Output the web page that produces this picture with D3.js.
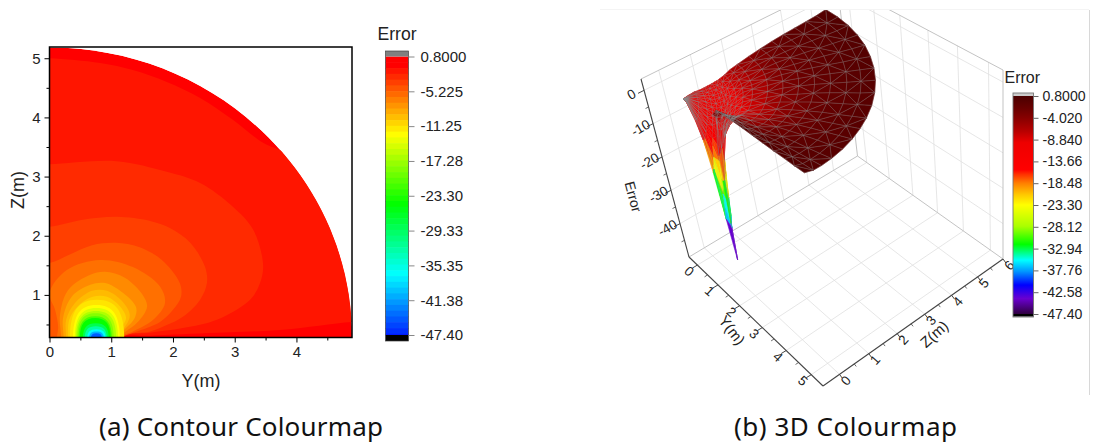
<!DOCTYPE html>
<html><head><meta charset="utf-8">
<script src="https://cdn.jsdelivr.net/npm/d3@7"></script>
<style>
html,body{margin:0;padding:0;background:#fff}
svg{display:block}
text{font-family:"Liberation Sans",Arial,sans-serif;fill:#222}
.cap{font-family:"Noto Sans",sans-serif;font-size:26px;fill:#111}
</style></head><body><div id="c"></div>
<script>
// ---------- panel (a) data: contour lines as [Y, Z] in metres, outermost first
const bandBase = 0.8;
const contourLevels = [-0.2,-1.2,-2.2,-3.3,-4.5,-5.7,-7,-8,-9];
const contourLines = [
 [[-.4,-.2],[-.4,5],[0,5],[.82,4.92],[1.35,4.8],[1.9,4.6],[2.44,4.33],[2.97,3.96],[3.46,3.57],[3.73,3.45],[4.4,3.2],[5.4,3.2],[5.4,.55],[4.9,.54],[3.78,.41],[2.71,.36],[1.63,.31],[1.14,.27],[1.1,-.2]],
 [[-.4,-.2],[-.4,3.21],[0,3.21],[1.09,3.26],[1.9,3.08],[2.44,2.89],[2.97,2.49],[3.3,2.1],[3.46,1.51],[3.41,1.2],[3.25,.92],[2.71,.58],[2.16,.44],[1.63,.36],[1.14,.28],[1.1,-.2]],
 [[-.4,-.2],[-.4,2.15],[0,2.15],[.54,2.27],[1.09,2.32],[1.63,2.25],[1.95,2.13],[2.28,1.88],[2.52,1.47],[2.55,1.2],[2.44,.92],[2.16,.63],[1.9,.49],[1.63,.38],[1.14,.28],[1.1,-.2]],
 [[-.4,-.2],[-.4,1.54],[0,1.54],[.32,1.68],[.69,1.84],[1.08,1.88],[1.45,1.81],[1.82,1.59],[2.11,1.2],[2.13,.97],[2,.75],[1.79,.54],[1.63,.46],[1.22,.31],[1.06,.25],[1,-.2]],
 [[.12,-.2],[.12,.27],[.14,.46],[.09,.75],[0,1.03],[.28,1.42],[.82,1.59],[1.35,1.47],[1.79,1.14],[1.87,.86],[1.68,.58],[1.35,.38],[1.11,.26],[1.05,-.2]],
 [[.19,-.2],[.19,.27],[.17,.66],[.3,1.08],[.66,1.34],[.9,1.39],[1.22,1.29],[1.51,1],[1.58,.8],[1.43,.54],[1.22,.37],[1.08,.26],[1.04,-.2]],
 [[.23,-.2],[.23,.27],[.22,.61],[.36,.97],[.66,1.17],[.9,1.2],[1.17,1.05],[1.4,.8],[1.38,.61],[1.21,.41],[1.06,.26],[1.02,-.2]],
 [[.27,-.2],[.27,.27],[.27,.58],[.41,.86],[.69,1.07],[.93,1.07],[1.17,.9],[1.3,.66],[1.21,.44],[1.04,.26],[1,-.2]],
 [[.3,-.2],[.3,.27],[.32,.58],[.46,.81],[.7,.97],[.93,.97],[1.14,.81],[1.24,.61],[1.16,.44],[1.03,.26],[.99,-.2]]
];
// inner lobes round the source: level, left foot, right foot, crown height
const lobeLevels = [-10,-11.25,-13,-15,-17,-20,-23,-27,-31,-35,-39,-43];
const lobeLeft   = [.33,.38,.41,.43,.45,.47,.49,.54,.57,.61,.64,.67];
const lobeRight  = [1.21,1.14,1.11,1.08,1.04,1.01,.99,.96,.93,.91,.88,.85];
const lobeTop    = [.92,.83,.78,.73,.69,.64,.61,.52,.47,.42,.38,.35];
const xTicksA = [0,1,2,3,4], xMinorA = [.5,1.5,2.5,3.5,4.5];
const yTicksA = [1,2,3,4,5], yMinorA = [.5,1.5,2.5,3.5,4.5];
const barTicksA = [.8,-5.225,-11.25,-17.28,-23.3,-29.33,-35.35,-41.38,-47.4];
const barLabelsA = ["0.8000","-5.225","-11.25","-17.28","-23.30","-29.33","-35.35","-41.38","-47.40"];
const discRadius = 4.9, discBase = .28;

// ---------- panel (b) data: surface Error values on rings (rows) and angles (columns)
const surfRadius = [0,.12,.36,.55,.68,.8,.92,1.02,1.1,1.2,1.35,1.55,1.8,2.2,2.6,3,3.4,3.8,4.2,4.55,4.9];
const surfAngle  = [0,3,6,10,15,20,25,30,36,42,48,54,60,66,72,78,84,90];
const surfError = [
 [-4.5,-4.5,-4.5,-4.5,-4.5,-4.5,-4.5,-4.5,-4.5,-4.5,-4.5,-4.5,-4.5,-4.5,-4.5,-4.5,-4.5,-4.5],
 [-4.8,-4.8,-4.8,-4.8,-4.8,-4.8,-4.8,-4.7,-4.7,-4.6,-4.6,-4.5,-4.5,-4.4,-4.4,-4.3,-4.3,-4.2],
 [-9,-9,-9,-9,-8.8,-8.4,-8,-7.5,-7,-6.6,-6.2,-5.7,-5.2,-4.8,-4.5,-4.3,-4.2,-4.1],
 [-14,-14,-13.8,-13.3,-12.3,-11.5,-10.7,-10,-9.2,-8.5,-7.7,-7,-6.3,-5.7,-5.2,-4.8,-4.5,-4.3],
 [-23,-22,-21,-19,-16,-14,-12.5,-11,-10,-9.2,-8.4,-7.6,-6.9,-6.1,-5.5,-5,-4.6,-4.3],
 [-36,-33,-29,-25,-20,-16,-13.5,-12,-10.6,-9.6,-8.8,-8,-7.2,-6.5,-5.8,-5.1,-4.7,-4.3],
 [-47.4,-38,-31,-25,-19.5,-16,-13.5,-11.8,-10.5,-9.5,-8.6,-7.8,-7,-6.3,-5.7,-5.1,-4.7,-4.3],
 [-36,-34,-29,-23,-18,-14.5,-12.5,-11,-9.8,-8.9,-8.2,-7.5,-6.8,-6.2,-5.6,-5.1,-4.7,-4.2],
 [-23,-23,-21.5,-18,-15,-12.5,-11,-10,-9,-8.3,-7.6,-7,-6.4,-5.9,-5.4,-5,-4.6,-4.2],
 [-15,-14.5,-13.5,-12.5,-11,-10,-9,-8.4,-7.7,-7.1,-6.6,-6.2,-5.7,-5.3,-4.9,-4.6,-4.3,-4],
 [-2.2,-3.5,-5.5,-7,-8,-8,-7.6,-7.1,-6.5,-6,-5.6,-5.2,-4.9,-4.6,-4.3,-4.1,-3.9,-3.7],
 [0,-1,-2.2,-3.4,-4.8,-5.4,-5.6,-5.4,-5,-4.6,-4.3,-4,-3.8,-3.6,-3.4,-3.2,-3.1,-3],
 [.3,-.3,-1.2,-2,-3,-3.7,-4.1,-4.4,-4.3,-3.9,-3.6,-3.3,-3.3,-3.2,-3,-2.8,-2.7,-2.6],
 [.5,-.5,-1.2,-2,-2.7,-3.2,-3.4,-3.4,-3.2,-3,-2.8,-2.6,-2.4,-2.3,-2.2,-2.1,-2.1,-2],
 [.6,-.4,-1.1,-1.7,-2.2,-2.4,-2.5,-2.4,-2.2,-2,-1.9,-1.7,-1.6,-1.6,-1.5,-1.5,-1.5,-1.5],
 [.6,-.3,-.8,-1.2,-1.5,-1.7,-1.8,-1.8,-1.7,-1.6,-1.4,-1.3,-1.2,-1.2,-1.1,-1.1,-1.1,-1.1],
 [.6,-.2,-.5,-.9,-1.1,-1.2,-1.3,-1.3,-1.2,-1.1,-1,-.9,-.9,-.9,-.8,-.8,-.8,-.8],
 [.6,-.1,-.4,-.6,-.8,-.9,-.9,-.9,-.9,-.8,-.8,-.7,-.7,-.6,-.6,-.6,-.6,-.6],
 [.7,0,-.3,-.5,-.6,-.7,-.7,-.7,-.7,-.6,-.6,-.5,-.5,-.4,-.4,-.4,-.4,-.4],
 [.7,0,-.2,-.4,-.5,-.5,-.5,-.5,-.5,-.5,-.4,-.3,-.2,-.2,-.2,-.2,-.2,-.2],
 [.8,.1,-.1,-.2,-.3,-.3,-.3,-.3,-.3,-.2,-.2,-.1,-.1,.1,.1,.2,.2,.2]
];
const yTicksB = [0,1,2,3,4,5], yMinorB = [.5,1.5,2.5,3.5,4.5];
const zTicksB = [0,1,2,3,4,5,6], zMinorB = [.5,1.5,2.5,3.5,4.5,5.5];
const eTicksB = [0,-10,-20,-30,-40], eMinorB = [-5,-15,-25,-35,-45];
const barTicksB = [.8,-4.02,-8.84,-13.66,-18.48,-23.3,-28.12,-32.94,-37.76,-42.58,-47.4];
const barLabelsB = ["0.8000","-4.020","-8.840","-13.66","-18.48","-23.30","-28.12","-32.94","-37.76","-42.58","-47.40"];
const cmapValues = [.8,-2,-4,-7,-9.5,-15.5,-16.5,-18.5,-21,-23.3,-28,-32,-35.5,-38,-41,-44,-47.4];
const cmapColors = ["#4a0000","#6a0000","#860000","#b80000","#ee0000","#ff0000","#ff3000","#ff8000","#ffc800","#ffff00","#aaff00","#00ff00","#00ffff","#0096ff","#0000ff","#6a00d0","#300040"];
// surface lighting: the lit mesh reads brighter than the colour bar at shallow errors
const lightIn  = [.8,-.5,-1.5,-3,-5,-10,-15,-47.4];
const lightOut = [.8,-.6,-2.8,-6.5,-9.5,-11.5,-15,-47.4];

// ---------- page
const svg = d3.select("#c").append("svg").attr("width",1093).attr("height",445);
const defs = svg.append("defs");

// ---------- panel (a)
const xA = d3.scaleLinear().domain([0,discRadius]).range([49.5,352]);
const yA = d3.scaleLinear().domain([discBase,5.19]).range([337.5,47]);
const hue = d3.scaleLinear().domain([.8,-47.4]).range([0,240]);
const bandColor = v => d3.hsl(hue(v),1,.5).formatHex();

defs.append("clipPath").attr("id","plotA").append("rect")
  .attr("x",xA(0)).attr("y",yA(5.19)).attr("width",xA(discRadius)-xA(0)).attr("height",yA(discBase)-yA(5.19));
const discPath = d3.path();
discPath.moveTo(xA(0),yA(discBase));
discPath.lineTo(xA(0),yA(discBase+discRadius));
discPath.bezierCurveTo(xA(discRadius*.5523),yA(discBase+discRadius),xA(discRadius),yA(discBase+discRadius*.5523),xA(discRadius),yA(discBase));
discPath.closePath();
defs.append("clipPath").attr("id","discA").append("path").attr("d",discPath.toString());

const gA = svg.append("g").attr("clip-path","url(#plotA)").append("g").attr("clip-path","url(#discA)");
gA.append("path").attr("d",discPath.toString()).attr("fill",bandColor(bandBase));
const lineA = d3.line().x(d=>xA(d[0])).y(d=>yA(d[1])).curve(d3.curveCatmullRom.alpha(.5));
gA.selectAll("path.band").data(contourLines).join("path").attr("class","band")
  .attr("d",d=>lineA(d)+"Z").attr("fill",(d,i)=>bandColor(contourLevels[i]));
gA.selectAll("path.lobe").data(lobeLevels).join("path").attr("class","lobe")
  .attr("fill",d=>bandColor(d))
  .attr("d",(d,i)=>{
    const l=lobeLeft[i], r=lobeRight[i], t=lobeTop[i], m=(l+r)/2, b=discBase-.02, k=.7;
    const p=d3.path();
    p.moveTo(xA(l),yA(b));
    p.bezierCurveTo(xA(l),yA(b+(t-b)*k),xA(m-(m-l)*k),yA(t),xA(m),yA(t));
    p.bezierCurveTo(xA(m+(r-m)*k),yA(t),xA(r),yA(b+(t-b)*k),xA(r),yA(b));
    p.closePath();
    return p.toString();
  });
svg.append("rect").attr("x",xA(0)).attr("y",yA(5.19)).attr("width",xA(discRadius)-xA(0)).attr("height",yA(discBase)-yA(5.19))
  .attr("fill","none").attr("stroke","#000").attr("stroke-width",1.5);

function styleAxis(g,size){g.select(".domain").remove();g.selectAll("text").attr("font-size",size).style("font-family",'"Liberation Sans",Arial,sans-serif').attr("fill","#222");return g;}
svg.append("g").attr("transform",`translate(0,${yA(discBase)})`).call(d3.axisBottom(xA).tickValues(xTicksA).tickSize(5).tickPadding(4).tickFormat(d3.format("d"))).call(styleAxis,15);
svg.append("g").attr("transform",`translate(0,${yA(discBase)})`).call(d3.axisBottom(xA).tickValues(xMinorA).tickSize(3).tickFormat("")).call(styleAxis,15);
svg.append("g").attr("transform",`translate(${xA(0)},0)`).call(d3.axisLeft(yA).tickValues(yTicksA).tickSize(5).tickPadding(4).tickFormat(d3.format("d"))).call(styleAxis,15);
svg.append("g").attr("transform",`translate(${xA(0)},0)`).call(d3.axisLeft(yA).tickValues(yMinorA).tickSize(3).tickFormat("")).call(styleAxis,15);
svg.append("text").attr("x",201).attr("y",387).attr("text-anchor","middle").attr("font-size",18).text("Y(m)");
svg.append("text").attr("transform","translate(24,190) rotate(-90)").attr("text-anchor","middle").attr("font-size",18).text("Z(m)");

// colour bar (a)
const barA = d3.scaleLinear().domain([.8,-47.4]).range([56.5,335]);
const barLevelsA = d3.range(.8,-47.4,-1);
const barLeftA = 385.5, barWideA = 23;
svg.append("g").selectAll("rect").data(barLevelsA).join("rect")
  .attr("x",barLeftA).attr("width",barWideA)
  .attr("y",d=>barA(d)).attr("height",d=>Math.min(barA(d-1),barA(-47.4))-barA(d)+.6)
  .attr("fill",(d,i)=>bandColor(i===0?.8:d+1));
svg.append("rect").attr("x",barLeftA).attr("width",barWideA).attr("y",51).attr("height",5.5).attr("fill","#808080");
svg.append("rect").attr("x",barLeftA).attr("width",barWideA).attr("y",335).attr("height",6).attr("fill","#000");
svg.append("rect").attr("x",barLeftA).attr("width",barWideA).attr("y",51).attr("height",290).attr("fill","none").attr("stroke","#444").attr("stroke-width",.7);
svg.append("g").attr("transform",`translate(${barLeftA+barWideA},0)`)
  .call(d3.axisRight(barA).tickValues(barTicksA).tickSize(6).tickPadding(6).tickFormat((d,i)=>barLabelsA[i])).call(styleAxis,15)
  .selectAll("line").attr("stroke","#888");
svg.append("text").attr("x",377.5).attr("y",40).attr("font-size",17.6).text("Error");

// ---------- panel (b): box projection
const Ymin=-.42,Ymax=5.45,Zmin=-.55,Zmax=6.0,Emin=-50,Emax=3.4;
function quad(p){ // unit square (u along A->B, v along A->D) to quadrilateral A,B,C,D
  const [p0,p1,p2,p3]=p;
  const dx1=p1[0]-p2[0],dx2=p3[0]-p2[0],sx=p0[0]-p1[0]+p2[0]-p3[0];
  const dy1=p1[1]-p2[1],dy2=p3[1]-p2[1],sy=p0[1]-p1[1]+p2[1]-p3[1];
  const den=dx1*dy2-dx2*dy1;
  const g=(sx*dy2-dx2*sy)/den,h=(dx1*sy-sx*dy1)/den;
  const a=p1[0]-p0[0]+g*p1[0],b=p3[0]-p0[0]+h*p3[0],c=p0[0];
  const d=p1[1]-p0[1]+g*p1[1],e=p3[1]-p0[1]+h*p3[1],f=p0[1];
  return (u,v)=>{const w=g*u+h*v+1;return [(a*u+b*v+c)/w,(d*u+e*v+f)/w];};
}
const floorQ = quad([[689,257],[823,386],[1003,259],[857.5,156]]);
const topQ   = quad([[641,79],[790,192],[1003,70],[837,-18]]);
const uS=d3.scaleLinear().domain([Ymin,Ymax]).range([0,1]);
const vS=d3.scaleLinear().domain([Zmin,Zmax]).range([0,1]);
const tS=d3.scaleLinear().domain([Emin,Emax]).range([0,1]);
function proj(Y,Z,E){
  const f=floorQ(uS(Y),vS(Z)),t=topQ(uS(Y),vS(Z)),k=tS(E);
  return [f[0]+(t[0]-f[0])*k,f[1]+(t[1]-f[1])*k];
}
defs.append("clipPath").attr("id","plotB").append("rect").attr("x",560).attr("y",10).attr("width",529).attr("height",400);
const gB=svg.append("g").attr("clip-path","url(#plotB)");
const seg=(g,a,b,col,w)=>g.append("line").attr("x1",a[0]).attr("y1",a[1]).attr("x2",b[0]).attr("y2",b[1]).attr("stroke",col).attr("stroke-width",w);
const gridCol="#e0e0e0", frameCol="#bcbcbc", axisCol="#444";
yTicksB.forEach(Y=>{seg(gB,proj(Y,Zmin,Emin),proj(Y,Zmax,Emin),gridCol,.8);seg(gB,proj(Y,Zmax,Emin),proj(Y,Zmax,Emax),gridCol,.8);});
zTicksB.filter(z=>z<6).forEach(Z=>{seg(gB,proj(Ymin,Z,Emin),proj(Ymax,Z,Emin),gridCol,.8);seg(gB,proj(Ymin,Z,Emin),proj(Ymin,Z,Emax),gridCol,.8);});
eTicksB.forEach(E=>{seg(gB,proj(Ymin,Zmin,E),proj(Ymin,Zmax,E),gridCol,.8);seg(gB,proj(Ymin,Zmax,E),proj(Ymax,Zmax,E),gridCol,.8);});
[[[Ymin,Zmin,Emax],[Ymin,Zmax,Emax]],[[Ymin,Zmax,Emax],[Ymax,Zmax,Emax]],[[Ymax,Zmax,Emax],[Ymax,Zmax,Emin]],[[Ymin,Zmin,Emin],[Ymin,Zmax,Emin]],[[Ymin,Zmax,Emin],[Ymax,Zmax,Emin]],[[Ymin,Zmax,Emax],[Ymin,Zmax,Emin]]]
  .forEach(s=>seg(gB,proj(...s[0]),proj(...s[1]),frameCol,.9));

// surface
const cmap3D=d3.scaleLinear().domain(cmapValues).range(cmapColors).interpolate(d3.interpolateRgb);
const light=d3.scaleLinear().domain(lightIn).range(lightOut);
const nodes=surfError.map((row,i)=>row.map((E,j)=>{
  const a=surfAngle[j]*Math.PI/180,r=surfRadius[i];
  const Y=r*Math.cos(a),Z=discBase+r*Math.sin(a);
  return {Y,Z,E,p:proj(Y,Z,E)};
}));
const tris=[];
for(let i=0;i<nodes.length-1;i++)for(let j=0;j<nodes[i].length-1;j++){
  const a=nodes[i][j],b=nodes[i+1][j],c=nodes[i+1][j+1],d=nodes[i][j+1];
  if((i+j)%2){tris.push([a,b,c]);tris.push([a,c,d]);}else{tris.push([a,b,d]);tris.push([b,c,d]);}
}
tris.forEach(t=>{
  const mean=d3.mean(t,n=>n.E),low=d3.min(t,n=>n.E);
  t.depth=d3.mean(t,n=>n.Y-n.Z);
  t.E=low<-30?(mean+low)/2:mean;
});
tris.sort((p,q)=>p.depth-q.depth);
const surfFill=t=>cmap3D(light(t.E));
gB.append("g").selectAll("path").data(tris).join("path")
  .attr("d",t=>"M"+t.map(n=>n.p.join(",")).join("L")+"Z")
  .attr("fill",surfFill).attr("stroke",surfFill).attr("stroke-width",.6);
gB.append("g").selectAll("path").data(tris).join("path")
  .attr("d",t=>"M"+t.map(n=>n.p.join(",")).join("L")+"Z")
  .attr("fill","none").attr("stroke","#8c8c8c").attr("stroke-opacity",t=>t.E<-12?.12:.42).attr("stroke-width",.5);

// axes (b)
seg(svg,proj(Ymin,Zmin,Emax),proj(Ymin,Zmin,Emin),axisCol,1.1);
seg(svg,proj(Ymin,Zmin,Emin),proj(Ymax,Zmin,Emin),axisCol,1.1);
seg(svg,proj(Ymax,Zmin,Emin),proj(Ymax,Zmax,Emin),axisCol,1.1);
eTicksB.forEach(E=>{const p=proj(Ymin,Zmin,E);seg(svg,p,[p[0]-6,p[1]+3],axisCol,1);
  svg.append("text").attr("transform",`translate(${p[0]-12},${p[1]+5}) rotate(-30)`).attr("text-anchor","middle").attr("dominant-baseline","middle").attr("font-size",13.5).text(E);});
eMinorB.forEach(E=>{const p=proj(Ymin,Zmin,E);seg(svg,p,[p[0]-3,p[1]+1.5],axisCol,.8);});
yTicksB.forEach(Y=>{const p=proj(Y,Zmin,Emin);seg(svg,p,[p[0]-5,p[1]+3],axisCol,1);
  svg.append("text").attr("transform",`translate(${p[0]-9},${p[1]+7}) rotate(42)`).attr("text-anchor","middle").attr("dominant-baseline","middle").attr("font-size",13.5).text(Y);});
yMinorB.forEach(Y=>{const p=proj(Y,Zmin,Emin);seg(svg,p,[p[0]-3,p[1]+2],axisCol,.8);});
zTicksB.forEach(Z=>{const p=proj(Ymax,Z,Emin);seg(svg,p,[p[0]+3,p[1]+4],axisCol,1);
  svg.append("text").attr("transform",`translate(${p[0]+7},${p[1]+7}) rotate(-48)`).attr("text-anchor","middle").attr("dominant-baseline","middle").attr("font-size",13.5).text(Z);});
zMinorB.forEach(Z=>{const p=proj(Ymax,Z,Emin);seg(svg,p,[p[0]+2,p[1]+2.5],axisCol,.8);});
svg.append("text").attr("transform","translate(731,331) rotate(52)").attr("text-anchor","middle").attr("dominant-baseline","middle").attr("font-size",15).text("Y(m)");
svg.append("text").attr("transform","translate(935,335) rotate(-42)").attr("text-anchor","middle").attr("dominant-baseline","middle").attr("font-size",15).text("Z(m)");
svg.append("text").attr("transform","translate(632,197) rotate(75)").attr("text-anchor","middle").attr("dominant-baseline","middle").attr("font-size",14).text("Error");

// colour bar (b)
const barB=d3.scaleLinear().domain([.8,-47.4]).range([96,314]);
const grad=defs.append("linearGradient").attr("id","cmapB").attr("x1",0).attr("x2",0).attr("y1",0).attr("y2",1);
grad.selectAll("stop").data(cmapValues).join("stop")
  .attr("offset",d=>(barB(d)-96)/(314-96)).attr("stop-color",(d,i)=>cmapColors[i]);
const barLeftB=1013, barWideB=20.5;
svg.append("rect").attr("x",barLeftB).attr("width",barWideB).attr("y",93).attr("height",224).attr("fill","#ccc");
svg.append("rect").attr("x",barLeftB).attr("width",barWideB).attr("y",96).attr("height",218).attr("fill","url(#cmapB)");
svg.append("rect").attr("x",barLeftB).attr("width",barWideB).attr("y",314).attr("height",2.5).attr("fill","#000");
svg.append("rect").attr("x",barLeftB).attr("width",barWideB).attr("y",93).attr("height",224).attr("fill","none").attr("stroke","#777").attr("stroke-width",.9);
svg.append("g").attr("transform",`translate(${barLeftB+barWideB},0)`)
  .call(d3.axisRight(barB).tickValues(barTicksB).tickSize(5).tickPadding(4).tickFormat((d,i)=>barLabelsB[i])).call(styleAxis,14.1)
  .selectAll("line").attr("stroke","#666");
svg.append("text").attr("x",1004.5).attr("y",83).attr("font-size",16).text("Error");
// image edges
svg.append("line").attr("x1",1089.5).attr("x2",1089.5).attr("y1",10).attr("y2",395).attr("stroke","#d8d8d8");
svg.append("line").attr("x1",600).attr("x2",1089).attr("y1",9.5).attr("y2",9.5).attr("stroke","#f4f4f4");

// captions
svg.append("text").attr("class","cap").attr("x",99).attr("y",436).attr("textLength",284).attr("lengthAdjust","spacing").text("(a) Contour Colourmap");
svg.append("text").attr("class","cap").attr("x",734).attr("y",436).attr("textLength",223).attr("lengthAdjust","spacing").text("(b) 3D Colourmap");
</script></body></html>
